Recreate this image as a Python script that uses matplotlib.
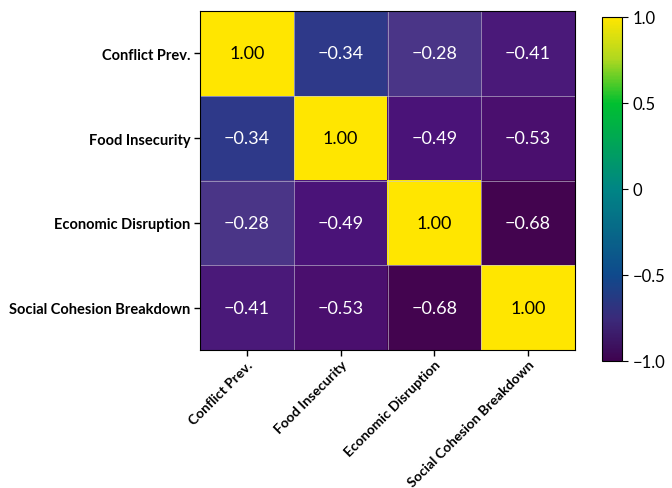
import numpy as np
import matplotlib
matplotlib.use("Agg")
import matplotlib.pyplot as plt
from matplotlib.colors import LinearSegmentedColormap, Normalize
from matplotlib.cm import ScalarMappable

plt.rcParams['font.family'] = ['Lato', 'DejaVu Sans']

labels = ["Conflict Prev.", "Food Insecurity", "Economic Disruption", "Social Cohesion Breakdown"]
corr = np.array([
    [1.00, -0.34, -0.28, -0.41],
    [-0.34, 1.00, -0.49, -0.53],
    [-0.28, -0.49, 1.00, -0.68],
    [-0.41, -0.53, -0.68, 1.00],
])
cbar_ticks = [1.0, 0.5, 0, -0.5, -1.0]
cbar_ticklabels = ["1.0", "0.5", "0", "\u22120.5", "\u22121.0"]

# colours as they appear in the cells
cell_cmap = LinearSegmentedColormap.from_list("cells", [
    (0.00, "#3f0350"),
    (0.16, "#44054f"),
    (0.235, "#4a0f6e"),
    (0.255, "#4b1479"),
    (0.295, "#4a1a7a"),
    (0.33, "#2e3a8a"),
    (0.36, "#4b3588"),
    (0.60, "#2a9080"),
    (1.00, "#ffe600"),
])
# colours shown in the colour bar
bar_cmap = LinearSegmentedColormap.from_list("bar", [
    (0.00, "#3e0350"),
    (0.12, "#3b2a7a"),
    (0.25, "#0f4a8c"),
    (0.50, "#008585"),
    (0.75, "#00c030"),
    (0.88, "#b0d820"),
    (1.00, "#ffe600"),
])
norm = Normalize(vmin=-1, vmax=1)

fig = plt.figure(figsize=(6.72, 4.89), dpi=100)
ax = fig.add_axes([200 / 672, 1 - 351 / 489, 375 / 672, 339 / 489])
ax.imshow(corr, cmap=cell_cmap, norm=norm, aspect='auto')

n = len(labels)
ax.set_xticks(range(n))
ax.set_yticks(range(n))
ax.set_xticklabels(labels, rotation=45, ha='right', rotation_mode='anchor',
                   fontsize=10, fontweight='bold')
ax.set_yticklabels(labels, fontsize=10.5, fontweight='bold')
ax.tick_params(length=4, width=1, pad=3)
ax.tick_params(axis='x', pad=2)

ax.set_xticks(np.arange(-0.5, n, 1), minor=True)
ax.set_yticks(np.arange(-0.5, n, 1), minor=True)
ax.grid(which='minor', color='#c8c8d8', linewidth=0.6, alpha=0.7)
ax.tick_params(which='minor', length=0)

for i in range(n):
    for j in range(n):
        v = corr[i, j]
        txt = f"{v:.2f}".replace("-", "\u2212")
        ax.text(j, i, txt, ha='center', va='center', fontsize=13,
                color='black' if v > 0.5 else 'white')

cax = fig.add_axes([602 / 672, 1 - 362 / 489, 20 / 672, 344 / 489])
cb = fig.colorbar(ScalarMappable(norm=norm, cmap=bar_cmap), cax=cax)
cb.set_ticks(cbar_ticks)
cb.set_ticklabels(cbar_ticklabels)
cb.ax.tick_params(labelsize=12, length=4)

fig.savefig("out.png", dpi=100, facecolor='white')
